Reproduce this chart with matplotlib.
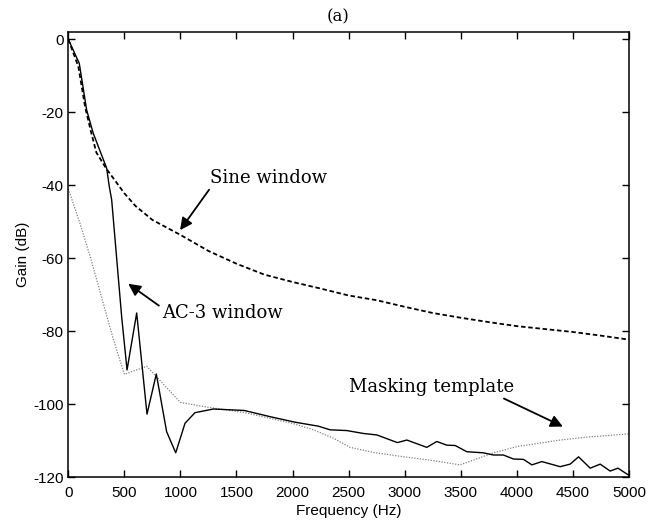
import numpy as np
import matplotlib
matplotlib.use('Agg')
import matplotlib.pyplot as plt

# ---------------------------------------------------------------------- #
# Data (frequency in Hz, gain in dB)
# ---------------------------------------------------------------------- #
sine_f = [0, 90, 150, 200, 250, 340, 400, 500, 600, 750, 1000, 1250, 1500,
          1750, 2000, 2250, 2500, 2750, 3000, 3250, 3500, 3750, 4000, 4250,
          4500, 4750, 5000]
sine_db = [0, -7.5, -18.5, -25, -31, -35.5, -38, -42.2, -45.7, -49.5, -53.6,
           -58, -61.5, -64.5, -66.5, -68.3, -70.2, -71.5, -73.3, -75, -76.3,
           -77.5, -78.6, -79.4, -80.2, -81.2, -82.3]

ac3_f = [0, 98, 164, 223, 342, 366, 387, 476, 524, 610, 702, 785, 877, 958,
         1041, 1130, 1294, 1570, 1800, 2020, 2230, 2335, 2483, 2632, 2751,
         2935, 3019, 3197, 3286, 3375, 3450, 3554, 3702, 3791, 3880, 3970,
         4059, 4134, 4223, 4386, 4475, 4550, 4654, 4743, 4832, 4901, 4996]
ac3_db = [0, -6.6, -19.4, -25.8, -35.3, -40.4, -44, -76, -90.6, -75, -102.7,
          -91.7, -107.5, -113.3, -105.2, -102.3, -101.3, -101.7, -103.4,
          -104.9, -106, -107, -107.2, -108, -108.4, -110.5, -109.8, -111.8,
          -110.2, -111.2, -111.3, -113, -113.3, -113.9, -113.9, -115, -115.1,
          -116.6, -115.7, -117.1, -116.4, -114.4, -117.5, -116.4, -118.3,
          -117.5, -119.4]

mask_f = [0, 100, 200, 300, 400, 500, 700, 1000, 1264, 1576, 2007, 2186,
          2364, 2513, 2721, 3019, 3227, 3494, 3791, 4000, 4386, 4624, 5000]
mask_db = [-41, -50, -60, -71, -82, -91.8, -89.6, -99.5, -100.9, -102.3,
           -105.3, -107, -109.3, -111.8, -113.2, -114.5, -115.3, -116.6,
           -113.3, -111.6, -109.8, -109, -108.1]

x_ticks = np.arange(0, 5001, 500)
y_ticks = np.arange(-120, 1, 20)

# ---------------------------------------------------------------------- #
# Figure
# ---------------------------------------------------------------------- #
SANS = 'Liberation Sans'
SERIF = 'DejaVu Serif'
plt.rcParams['axes.unicode_minus'] = False

fig = plt.figure(figsize=(6.49, 5.25), dpi=100)
ax = fig.add_axes([0.1052, 0.0909, 0.864, 0.8476])

ax.plot(mask_f, mask_db, color='0.5', lw=0.9, ls=(0, (1, 1.2)))
ax.plot(sine_f, sine_db, color='k', lw=1.3, ls=(0, (2.5, 1.5)))
ax.plot(ac3_f, ac3_db, color='k', lw=1.0)

ax.set_xlim(0, 5000)
ax.set_ylim(-120, 1.9)
ax.set_xticks(x_ticks)
ax.set_yticks(y_ticks)
ax.tick_params(direction='in', top=True, right=True, length=5, width=1,
               labelsize=11)
ax.tick_params(axis='x', pad=6)
for lab in ax.get_xticklabels() + ax.get_yticklabels():
    lab.set_fontfamily(SANS)
for sp in ax.spines.values():
    sp.set_linewidth(1.1)

ax.set_xlabel('Frequency (Hz)', fontsize=11, family=SANS, labelpad=3)
ax.set_ylabel('Gain (dB)', fontsize=11, family=SANS, labelpad=2)
fig.text(338 / 649, 1 - 17 / 525, '(a)', fontsize=12, family=SERIF,
         ha='center', va='center')

# annotations with filled arrow heads
arrow = dict(arrowstyle='-|>', color='k', lw=1.3, mutation_scale=18,
             shrinkA=0, shrinkB=0)
ax.annotate('Sine window', xy=(997, -52.3), xytext=(1264, -38),
            fontsize=13, family=SERIF, va='center', ha='left',
            arrowprops=dict(arrow, relpos=(0.02, 0.1)))
ax.annotate('AC-3 window', xy=(535, -67), xytext=(833, -75),
            fontsize=13, family=SERIF, va='center', ha='left',
            arrowprops=dict(arrow, relpos=(0.0, 0.8)))
ax.annotate('Masking template', xy=(4410, -106.1), xytext=(2507, -95.2),
            fontsize=13, family=SERIF, va='center', ha='left',
            arrowprops=dict(arrow, relpos=(0.9, 0.0)))

plt.savefig('out.png', dpi=100)
plt.close('all')
